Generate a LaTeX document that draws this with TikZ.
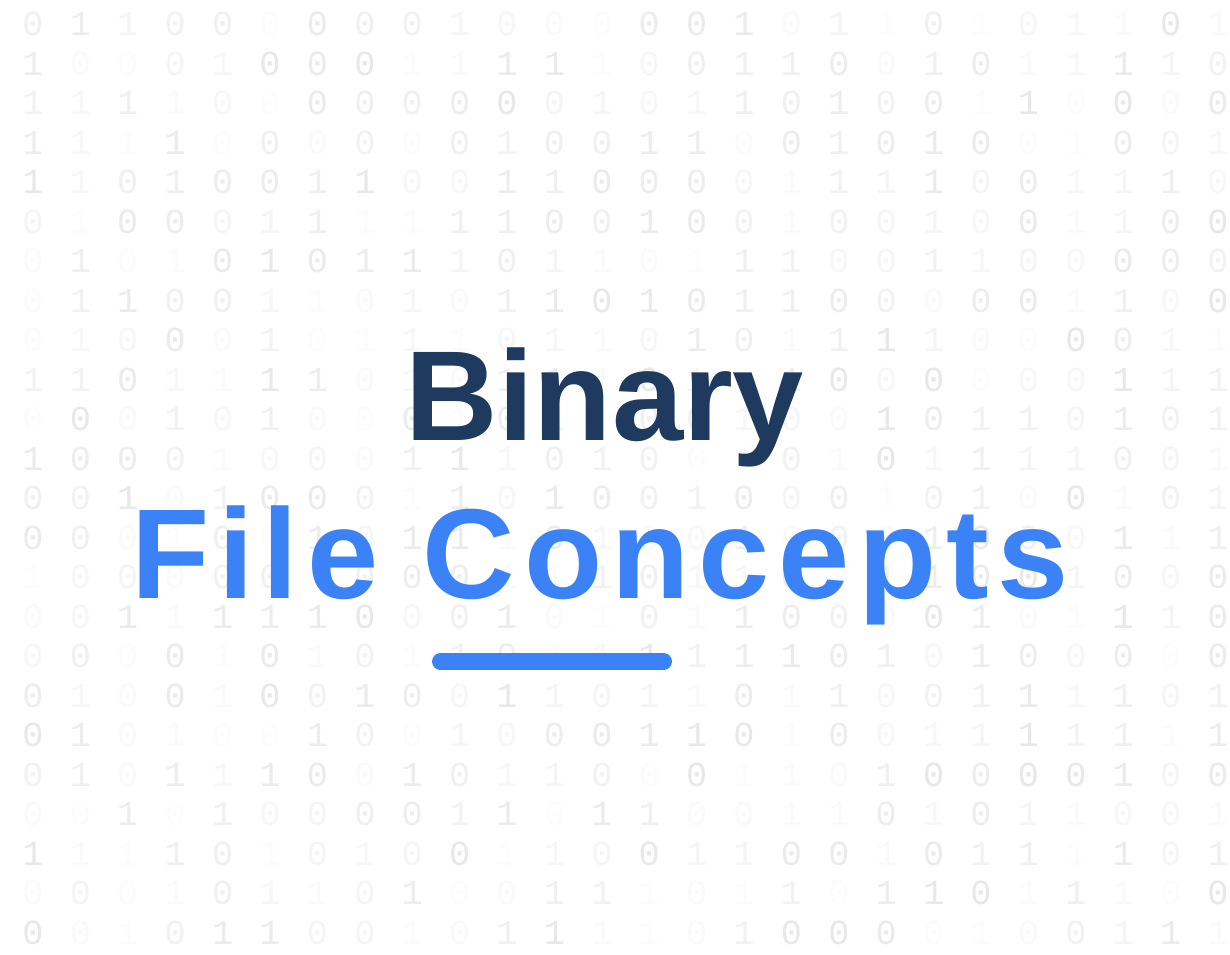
\documentclass[tikz,border=0pt]{standalone}
\usepackage{fontspec}
\setmainfont{Liberation Sans}
\newfontfamily\bitfont{Liberation Mono}
\definecolor{navy}{HTML}{1F3A5F}
\definecolor{accent}{HTML}{3B82F6}
\tikzset{
  bit/.style={font=\bitfont\fontsize{10}{12}\selectfont, inner sep=0pt},
  headline/.style={font=\bfseries\fontsize{36.4}{40}\selectfont, inner sep=0pt, anchor=base},
}
\begin{document}
\begin{tikzpicture}[x=0.01cm, y=-0.01cm]
  \useasboundingbox (0,0) rectangle (1230,954);
  \fill[white] (0,0) rectangle (1230,954);

  % faint grid of bits behind the title
  \pgfmathsetseed{42}
  \foreach \i in {0,...,25} {
    \foreach \j in {0,...,23} {
      \pgfmathtruncatemacro{\bit}{random(0,1)}
      \pgfmathtruncatemacro{\pc}{1+random(0,8)}
      \node[bit, text=black!\pc] (b\i-\j) at (33+47.4*\i, 24+39.5*\j) {\bit};
    }
  }

  \node[headline, text=navy] (binary) at (605, 440) {Binary};
  \node[headline, text=accent] (concepts) at (600, 598)
    {\addfontfeature{LetterSpace=7}File Concepts};

  \coordinate (barl) at (440.5, 661.5);
  \coordinate (barr) at (663.5, 661.5);
  \draw[accent, line width=0.17cm, line cap=round] (barl) -- (barr);
\end{tikzpicture}
\end{document}
